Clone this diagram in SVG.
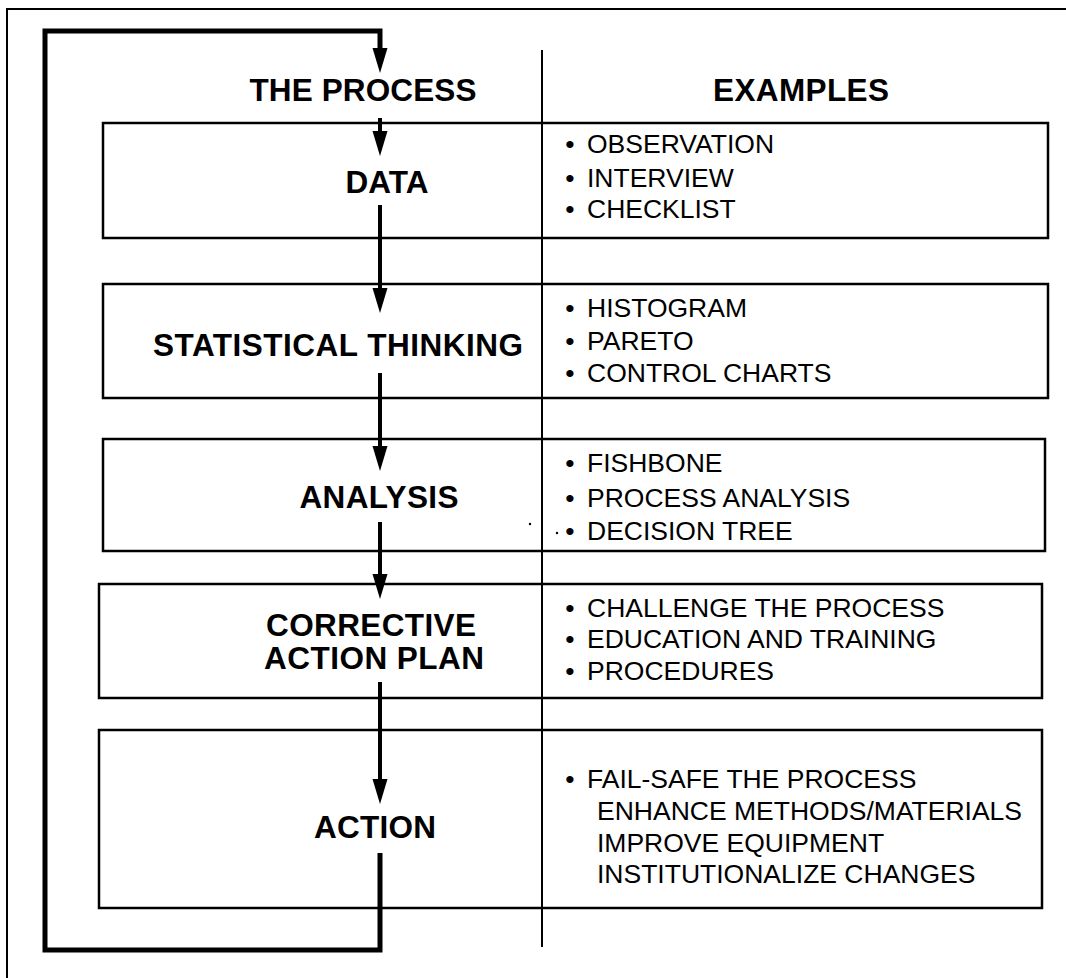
<svg xmlns="http://www.w3.org/2000/svg" width="1066" height="978" viewBox="0 0 1066 978">
  <style>
    .frame { fill: none; stroke: #000; stroke-width: 2; }
    .box { fill: none; stroke: #000; stroke-width: 2.5; }
    .divider { fill: none; stroke: #000; stroke-width: 2; }
    .conn { fill: none; stroke: #000; stroke-width: 4; }
    .loop { fill: none; stroke: #000; stroke-width: 5; stroke-linejoin: miter; }
    .hd { font-family: "Liberation Sans", Arial, Helvetica, sans-serif; font-weight: bold; font-size: 31.5px; fill: #000; text-anchor: middle; }
    .it { font-family: "Liberation Sans", Arial, Helvetica, sans-serif; font-size: 26.5px; fill: #000; }
    .bul { font-family: "Liberation Sans", Arial, Helvetica, sans-serif; font-size: 26.5px; fill: #000; text-anchor: middle; }
  </style>
  <defs>
    <marker id="arr" markerUnits="userSpaceOnUse" markerWidth="26" markerHeight="16" refX="0" refY="8" orient="auto">
      <path d="M0,0.5 L25,8 L0,15.5 Z" fill="#000"/>
    </marker>
  </defs>
  <rect width="1066" height="978" fill="#fff"/>
  <path class="frame" d="M7,978 V9 H1066"/>
  <line class="divider" x1="542" y1="50" x2="542" y2="947"/>

  <g id="headers">
    <text class="hd" x="363" y="101" textLength="227" lengthAdjust="spacing">THE PROCESS</text>
    <text class="hd" x="801" y="101" textLength="176" lengthAdjust="spacing">EXAMPLES</text>
  </g>

  <g id="node-data">
    <rect class="box" x="103" y="123" width="945" height="115"/>
    <text class="hd" x="387" y="193">DATA</text>
    <text class="bul" x="570" y="153">•</text><text class="it" x="587" y="153">OBSERVATION</text>
    <text class="bul" x="570" y="187">•</text><text class="it" x="587" y="187">INTERVIEW</text>
    <text class="bul" x="570" y="218">•</text><text class="it" x="587" y="218">CHECKLIST</text>
  </g>

  <g id="node-statistical">
    <rect class="box" x="103" y="284" width="945" height="114"/>
    <text class="hd" x="338" y="356" textLength="370" lengthAdjust="spacing">STATISTICAL THINKING</text>
    <text class="bul" x="570" y="317">•</text><text class="it" x="587" y="317">HISTOGRAM</text>
    <text class="bul" x="570" y="350">•</text><text class="it" x="587" y="350">PARETO</text>
    <text class="bul" x="570" y="382">•</text><text class="it" x="587" y="382">CONTROL CHARTS</text>
  </g>

  <g id="node-analysis">
    <rect class="box" x="103" y="439" width="942" height="112"/>
    <text class="hd" x="379" y="508" textLength="159" lengthAdjust="spacing">ANALYSIS</text>
    <text class="bul" x="570" y="472">•</text><text class="it" x="587" y="472">FISHBONE</text>
    <text class="bul" x="570" y="507">•</text><text class="it" x="587" y="507">PROCESS ANALYSIS</text>
    <text class="bul" x="570" y="540">•</text><text class="it" x="587" y="540">DECISION TREE</text>
    <circle cx="530" cy="524" r="1.2" fill="#000"/>
    <circle cx="557" cy="533" r="1.2" fill="#000"/>
  </g>

  <g id="node-corrective">
    <rect class="box" x="99" y="584" width="943" height="114"/>
    <text class="hd" x="371" y="636" textLength="210" lengthAdjust="spacing">CORRECTIVE</text>
    <text class="hd" x="374" y="669" textLength="220" lengthAdjust="spacing">ACTION PLAN</text>
    <text class="bul" x="570" y="617">•</text><text class="it" x="587" y="617">CHALLENGE THE PROCESS</text>
    <text class="bul" x="570" y="648">•</text><text class="it" x="587" y="648">EDUCATION AND TRAINING</text>
    <text class="bul" x="570" y="680">•</text><text class="it" x="587" y="680">PROCEDURES</text>
  </g>

  <g id="node-action">
    <rect class="box" x="99" y="730" width="943" height="178"/>
    <text class="hd" x="375" y="838" textLength="122" lengthAdjust="spacing">ACTION</text>
    <text class="bul" x="570" y="788">•</text><text class="it" x="587" y="788">FAIL-SAFE THE PROCESS</text>
    <text class="it" x="597" y="820">ENHANCE METHODS/MATERIALS</text>
    <text class="it" x="597" y="852">IMPROVE EQUIPMENT</text>
    <text class="it" x="597" y="883">INSTITUTIONALIZE CHANGES</text>
  </g>

  <g id="connectors">
    <path class="loop" d="M380,853 V950 H45 V31 H380 V48" marker-end="url(#arr)"/>
    <path class="conn" d="M380,118 V131" marker-end="url(#arr)"/>
    <path class="conn" d="M380,205 V288" marker-end="url(#arr)"/>
    <path class="conn" d="M380,373 V446" marker-end="url(#arr)"/>
    <path class="conn" d="M380,522 V574" marker-end="url(#arr)"/>
    <path class="conn" d="M380,682 V779" marker-end="url(#arr)"/>
  </g>
</svg>
